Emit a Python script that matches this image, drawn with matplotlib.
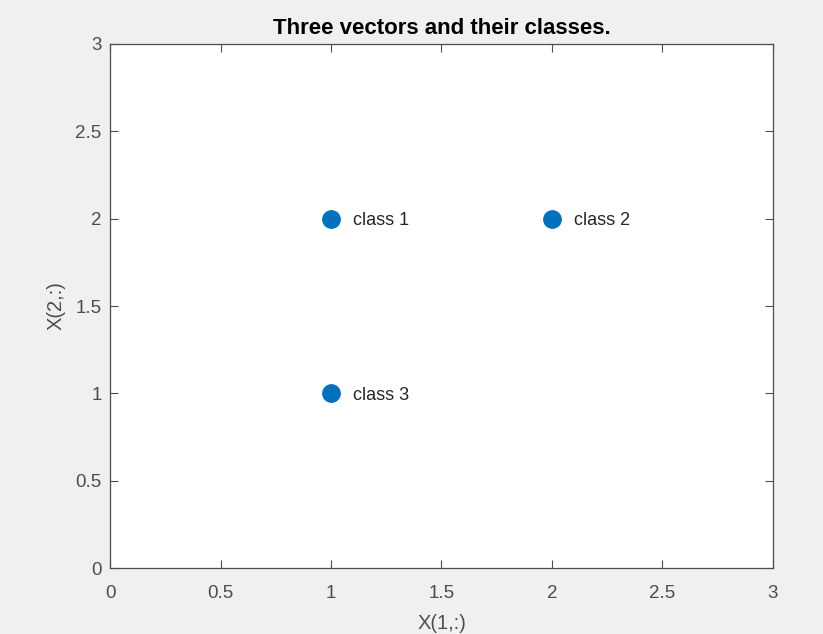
import matplotlib.pyplot as plt
import numpy as np

# three vectors (columns of X) and their class labels
x1 = [1, 2, 1]
x2 = [2, 2, 1]
labels = ['class 1', 'class 2', 'class 3']

ticks_x = [0, 0.5, 1, 1.5, 2, 2.5, 3]
ticks_y = [0, 0.5, 1, 1.5, 2, 2.5, 3]

plt.rcParams['font.family'] = ['Liberation Sans', 'DejaVu Sans']

fig = plt.figure(figsize=(8.23, 6.34), dpi=100, facecolor='#f0f0f0')
ax = fig.add_axes([0.1337, 0.1041, 0.8055, 0.8265])

ax.plot(x1, x2, 'o', color='#0072BD', markersize=12.5, linestyle='none')
for xi, yi, lab in zip(x1, x2, labels):
    ax.text(xi + 0.1, yi, lab, ha='left', va='center_baseline', fontsize=13,
            color='#262626')

ax.set_xlim(0, 3)
ax.set_ylim(0, 3)
ax.set_xticks(ticks_x)
ax.set_yticks(ticks_y)
ax.set_xticklabels([f'{t:g}' for t in ticks_x])
ax.set_yticklabels([f'{t:g}' for t in ticks_y])

tick_gray = '#4d4d4d'
ax.tick_params(direction='in', top=True, right=True, length=6, width=0.8,
               colors=tick_gray, labelsize=13.5)
ax.tick_params(axis='x', pad=12)
ax.tick_params(axis='y', pad=6)
for s in ax.spines.values():
    s.set_color(tick_gray)
    s.set_linewidth(0.9)

ax.set_xlabel('X(1,:)', fontsize=14.5, color=tick_gray, labelpad=9)
ax.set_ylabel('X(2,:)', fontsize=14.5, color=tick_gray, labelpad=7)
ax.set_title('Three vectors and their classes.', fontsize=16, fontweight='bold',
             color='black', pad=7)

plt.savefig('out.png', dpi=100, facecolor=fig.get_facecolor())
